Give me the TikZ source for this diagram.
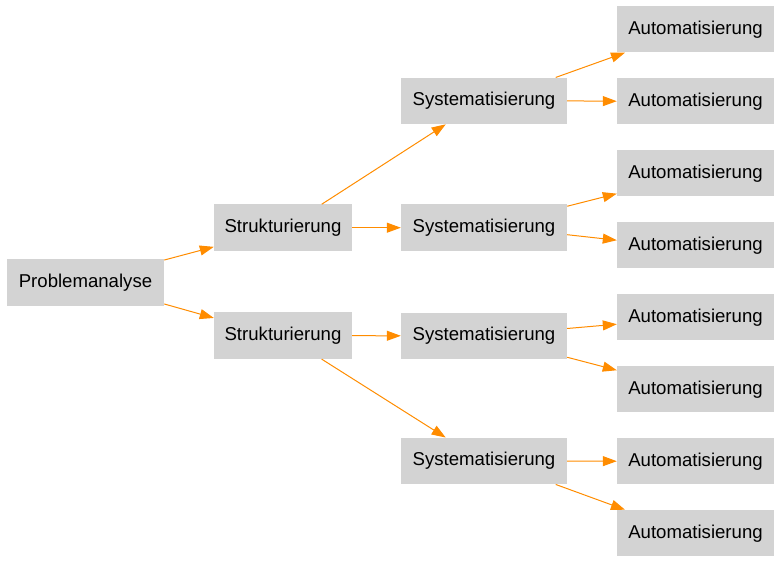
\documentclass[tikz,border=0pt]{standalone}
\usepackage{fontspec}
\setmainfont{Liberation Sans}
\usetikzlibrary{arrows.meta}
\definecolor{boxgray}{HTML}{D3D3D3}
\definecolor{edgeorange}{HTML}{FF8C00}
\tikzset{
  box/.style={fill=boxgray, draw=none, inner sep=0pt, minimum height=46.5bp,
              font=\fontsize{18.6bp}{22bp}\selectfont, text=black},
  pbox/.style={box, minimum width=157bp},
  sbox/.style={box, minimum width=138bp},
  ybox/.style={box, minimum width=166bp},
  abox/.style={box, minimum width=157bp},
  edge/.style={draw=edgeorange, line width=1bp, -{Triangle[length=14bp,width=10bp]}}
}
\begin{document}
\begin{tikzpicture}[x=1bp,y=-1bp]
\useasboundingbox (0,0) rectangle (781,563);
\node[pbox] (p) at (85.5,282.5) {Problemanalyse};
\node[sbox] (s1) at (283,227.7) {Strukturierung};
\node[sbox] (s2) at (283,335.7) {Strukturierung};
\node[ybox] (y1) at (484,100.9) {Systematisierung};
\node[ybox] (y2) at (484,227.7) {Systematisierung};
\node[ybox] (y3) at (484,335.8) {Systematisierung};
\node[ybox] (y4) at (484,461) {Systematisierung};
\node[abox] (a1) at (695.5,29.2) {Automatisierung};
\node[abox] (a2) at (695.5,101.2) {Automatisierung};
\node[abox] (a3) at (695.5,173.2) {Automatisierung};
\node[abox] (a4) at (695.5,245.2) {Automatisierung};
\node[abox] (a5) at (695.5,317.2) {Automatisierung};
\node[abox] (a6) at (695.5,389.2) {Automatisierung};
\node[abox] (a7) at (695.5,461.2) {Automatisierung};
\node[abox] (a8) at (695.5,533.2) {Automatisierung};
% edges
\draw[edge] ([yshift=-1bp]p.north east) -- ([yshift=4.3bp]s1.south west);
\draw[edge] ([yshift=2bp]p.south east) -- ([yshift=-5.7bp]s2.north west);
\draw[edge] ([xshift=38.7bp]s1.north) -- ([xshift=-38.3bp]y1.south);
\draw[edge] (s1.east) -- (y2.west);
\draw[edge] (s2.east) -- (y3.west);
\draw[edge] ([xshift=38.7bp]s2.south) -- ([xshift=-38.3bp]y4.north);
\draw[edge] ([xshift=71.7bp]y1.north) -- ([xshift=-70.5bp]a1.south);
\draw[edge] (y1.east) -- (a2.west);
\draw[edge] ([yshift=-2bp]y2.north east) -- ([yshift=3bp]a3.south west);
\draw[edge] ([yshift=-7bp]y2.east) -- ([yshift=5bp]a4.west);
\draw[edge] ([yshift=7.3bp]y3.east) -- ([yshift=-7bp]a5.west);
\draw[edge] ([yshift=2bp]y3.south east) -- ([yshift=-4.5bp]a6.north west);
\draw[edge] (y4.east) -- (a7.west);
\draw[edge] ([xshift=71.7bp]y4.south) -- ([xshift=-70.5bp]a8.north);
\end{tikzpicture}
\end{document}
